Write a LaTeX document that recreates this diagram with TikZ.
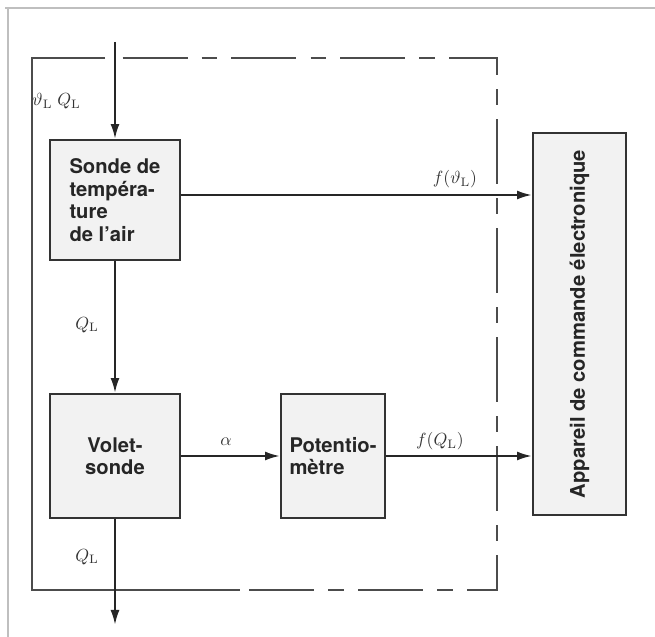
\documentclass[tikz,border=0pt]{standalone}
\usepackage{fontspec}
\setsansfont{TeX Gyre Heros}
\usetikzlibrary{arrows.meta,calc}

\begin{document}
\begin{tikzpicture}[
    >={Latex[length=3mm,width=1.8mm]},
    bloc/.style={draw=black!80, fill=gray!10, line width=1.1pt, inner sep=0pt,
      font=\sffamily\bfseries\fontsize{11.5}{12.8}\selectfont, text=black!85},
    fleche/.style={->, line width=1.3pt, draw=black!85},
    cadre/.style={black!70, line width=0.7pt,
      dash pattern=on 37pt off 8pt on 9pt off 8pt},
    etiq/.style={font=\fontsize{10}{12}\selectfont, text=black!80}
  ]

    % --- Dimensions de la page ---
    \useasboundingbox (0,0) rectangle (13.1,12.74);
    \draw[gray!50, line width=0.6pt] (0.1,12.58) -- (13.1,12.58);
    \draw[gray!50, line width=0.6pt] (0.16,12.58) -- (0.16,0);

    % --- Cadre en pointillés (débitmètre) ---
    \def\Xg{0.64}   % bord gauche
    \def\Xd{9.94}   % bord droit
    \def\Yh{11.58}  % bord haut
    \def\Yb{0.94}   % bord bas
    \draw[black!70, line width=0.7pt] (2.1,\Yh) -- (\Xg,\Yh) -- (\Xg,\Yb) -- (4.8,\Yb);
    \draw[cadre] (2.45,\Yh) -- (\Xd,\Yh) -- (\Xd,\Yb) -- (2.45,\Yb);

    % --- Blocs ---
    \node[bloc, minimum width=2.6cm, minimum height=2.4cm, align=left]
      (sonde) at (2.3,8.74) {Sonde de\\tempéra-\\ture\\de l’air};
    \node[bloc, minimum width=2.6cm, minimum height=2.48cm, align=center]
      (volet) at (2.3,3.62) {Volet-\\sonde};
    \node[bloc, minimum width=2.08cm, minimum height=2.48cm, align=left]
      (potar) at (6.66,3.62) {Potentio-\\mètre};
    \node[bloc, minimum width=7.64cm, minimum height=1.86cm, rotate=90]
      (appareil) at (11.59,6.26) {Appareil de commande électronique};

    % --- Flux d'air ---
    \coordinate (entree) at (2.3,11.9);
    \coordinate (sortie) at (2.3,0.24);
    \draw[fleche] (entree) -- (sonde.north);
    \draw[fleche] (sonde.south) -- (volet.north);
    \draw[fleche] (volet.south) -- (sortie);

    % --- Signaux ---
    \coordinate (depart) at ($(sonde.east)+(0,0.1)$);
    \draw[fleche] (depart) -- (depart -| appareil.north);
    \draw[fleche] (volet.east) -- (potar.west);
    \draw[fleche] (potar.east) -- (potar.east -| appareil.north);

    % --- Grandeurs ---
    \node[etiq, anchor=east] at (1.74,10.72) {$\vartheta_{\mathrm{L}}\;Q_{\mathrm{L}}$};
    \node[etiq, anchor=east] at (2.1,6.24) {$Q_{\mathrm{L}}$};
    \node[etiq, anchor=east] at (2.1,1.6) {$Q_{\mathrm{L}}$};
    \node[etiq] at (9.1,9.16) {$f(\vartheta_{\mathrm{L}})$};
    \node[etiq] at (4.52,3.9) {$\alpha$};
    \node[etiq] at (8.8,3.92) {$f(Q_{\mathrm{L}})$};

  \end{tikzpicture}
\end{document}
